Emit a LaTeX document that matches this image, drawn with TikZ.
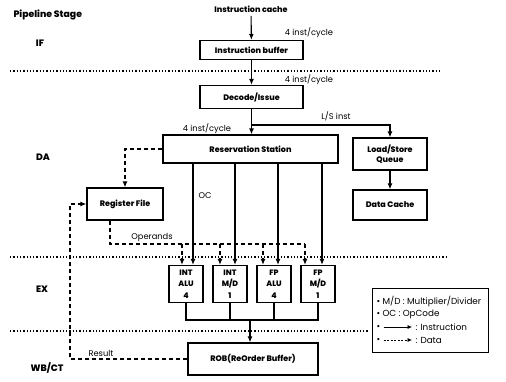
\documentclass[tikz,border=0pt]{standalone}
\usepackage{fontspec}
\setmainfont{Poppins}[BoldFont={Poppins ExtraBold}]
\usetikzlibrary{arrows.meta}

\begin{document}
\begin{tikzpicture}[x=1pt, y=-1pt,
  box/.style={draw, line width=1.3pt, fill=white, align=center, inner sep=1pt,
              font=\bfseries\fontsize{8}{9.5}\selectfont},
  unit/.style={box, minimum width=34pt, minimum height=37pt,
               font=\bfseries\fontsize{7.8}{11.5}\selectfont},
  stage/.style={font=\bfseries\fontsize{9.3}{11}\selectfont},
  lbl/.style={font=\fontsize{8.3}{10}\selectfont},
  lgd/.style={font=\fontsize{8.8}{10}\selectfont},
  lblb/.style={font=\bfseries\fontsize{8}{10}\selectfont},
  wire/.style={line width=1.1pt},
  inst/.style={wire, -{Latex[length=6pt,width=5pt]}},
  data/.style={line width=1.1pt, dash pattern=on 4pt off 3pt},
  dataarr/.style={data, -{Latex[length=6pt,width=5pt]}},
  legarr/.style={line width=0.7pt, -{Latex[length=4.5pt,width=4pt]}},
  sep/.style={line width=1.3pt, dotted},
]
\useasboundingbox (0,0) rectangle (506,382);

\node[stage, anchor=west] (hdr) at (10,15) {Pipeline Stage};
\node[stage] (sif) at (40,43) {IF};
\node[stage] (sda) at (43,157) {DA};
\node[stage] (sex) at (42,289) {EX};
\node[stage] (swb) at (47,368) {WB/CT};

\draw[sep] (10,71) -- (440,71);
\draw[sep] (10,257) -- (448,257);
\draw[sep] (10,331) -- (368,331);

\node[lblb] (cache) at (251,9) {Instruction cache};
\node[box, minimum width=103pt, minimum height=19pt] (ibuf) at (251.5,50) {Instruction buffer};
\node[box, minimum width=103pt, minimum height=23pt] (dec) at (251.5,97) {Decode/Issue};
\node[box, minimum width=175pt, minimum height=28pt] (rs) at (250.5,149) {Reservation Station};
\node[box, minimum width=74pt, minimum height=32pt] (lsq) at (390,154) {Load/Store\\Queue};
\node[box, minimum width=74pt, minimum height=30pt] (dc) at (390,205) {Data Cache};
\node[box, minimum width=76pt, minimum height=32pt] (rf) at (125,204) {Register File};
\node[unit] (intalu) at (186,284) {INT\\ALU\\4};
\node[unit] (intmd) at (230,284) {INT\\M/D\\1};
\node[unit] (fpalu) at (274,284) {FP\\ALU\\4};
\node[unit] (fpmd) at (318,284) {FP\\M/D\\1};
\node[box, minimum width=130pt, minimum height=32pt] (rob) at (253,359) {ROB(ReOrder Buffer)};

\node[lbl] (bw1) at (309,33) {4 inst/cycle};
\node[lbl] (bw2) at (309,80) {4 inst/cycle};
\node[lbl] (bw3) at (207,129) {4 inst/cycle};
\node[lbl] (lsl) at (336,116) {L/S inst};
\node[lbl] (ocl) at (205,196) {OC};
\node[lbl] (opl) at (152,238) {Operands};
\node[lbl] (resl) at (101,353) {Result};

\coordinate (fork) at (251.5,125);
\coordinate (opbus) at (305,244);
\coordinate (obus) at (250,320);
\coordinate (back) at (70,359);

\draw[inst] (cache) -- (ibuf);
\draw[inst] (ibuf) -- (dec);
\draw[inst] (dec) -- (dec |- rs.north);
\draw[inst] (fork) -| (lsq);
\draw[inst] (lsq) -- (dc);

\draw[dataarr] (rs) -| (rf);
\draw[dataarr] (rob.west) -- (back) |- (rf.west);
\draw[data] ([xshift=-15pt]rf.south) |- (opbus);

\draw[inst] ([xshift=7pt]intalu.north |- rs.south) -- ([xshift=7pt]intalu.north);
\draw[inst] ([xshift=5pt]intmd.north |- rs.south) -- ([xshift=5pt]intmd.north);
\draw[inst] ([xshift=4pt]fpalu.north |- rs.south) -- ([xshift=4pt]fpalu.north);
\draw[inst] ([xshift=4pt]fpmd.north |- rs.south) -- ([xshift=4pt]fpmd.north);

\draw[dataarr] ([xshift=-4pt]intalu.north |- opbus) -- ([xshift=-4pt]intalu.north);
\draw[dataarr] ([xshift=-10pt]intmd.north |- opbus) -- ([xshift=-10pt]intmd.north);
\draw[dataarr] ([xshift=-11pt]fpalu.north |- opbus) -- ([xshift=-11pt]fpalu.north);
\draw[dataarr] ([xshift=-13pt]fpmd.north |- opbus) -- ([xshift=-13pt]fpmd.north);

\draw[wire] (intalu) |- (obus) -| (fpmd);
\draw[wire] (intmd) -- (intmd |- obus);
\draw[wire] (fpalu) -- (fpalu |- obus);
\draw[inst] (obus) -- (obus |- rob.north);

\node[draw, line width=0.9pt, minimum width=116pt, minimum height=64pt] (legend) at (430,320) {};
\node[lgd, anchor=west] (lg1) at (373,301) {\textbullet\ M/D : Multiplier/Divider};
\node[lgd, anchor=west] (lg2) at (373,314) {\textbullet\ OC : OpCode};
\node[lgd, anchor=west] (lg3) at (373,327) {\textbullet};
\node[lgd, anchor=west] (lg3t) at (412,327) {: Instruction};
\node[lgd, anchor=west] (lg4) at (373,340) {\textbullet};
\node[lgd, anchor=west] (lg4t) at (412,340) {: Data};
\draw[legarr] (lg3) -- (lg3t);
\draw[legarr, dash pattern=on 2pt off 1.5pt] (lg4) -- (lg4t);

\end{tikzpicture}
\end{document}
